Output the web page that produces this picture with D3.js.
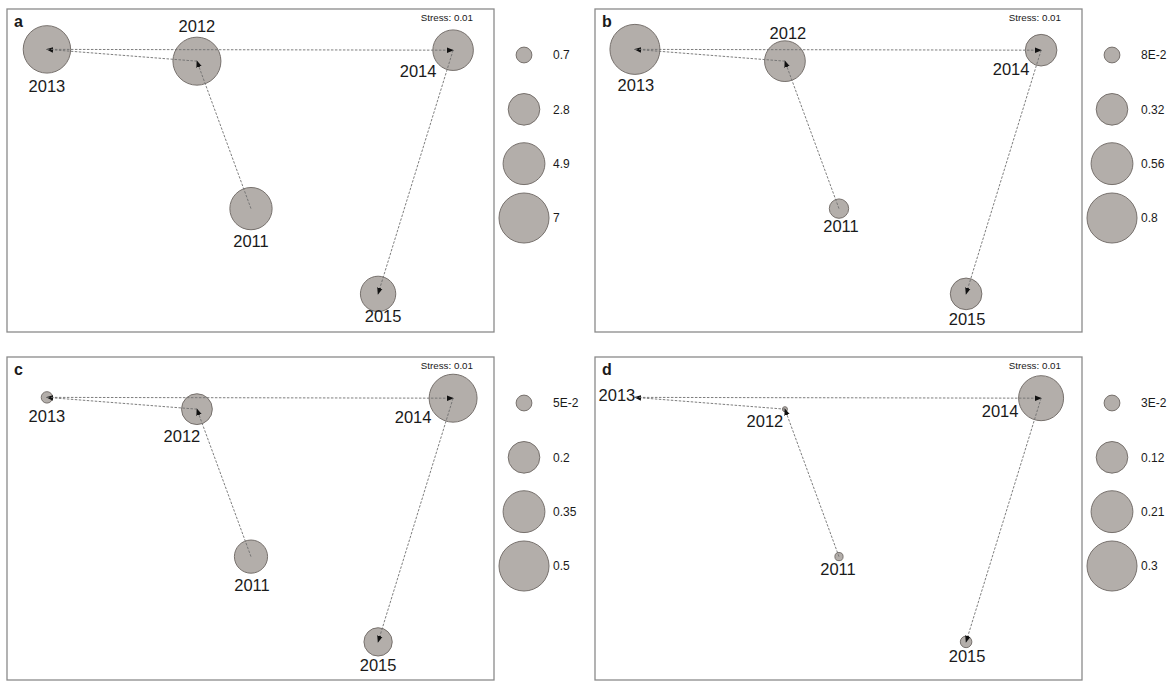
<!DOCTYPE html>
<html>
<head>
<meta charset="utf-8">
<script src="https://cdn.jsdelivr.net/npm/d3@7"></script>
<style>
  body { margin: 0; background: #fff; }
  text { font-family: "Liberation Sans", Arial, sans-serif; fill: #1a1a1a; }
</style>
</head>
<body>
<div id="container"></div>
<script>
/* DATA */
const years = [2011, 2012, 2013, 2014, 2015];
// NMDS scores, same ordination in every panel
const nmds1 = [0.002, -0.220, -0.836, 0.832, 0.524];
const nmds2 = [-0.236, 0.677, 0.750, 0.745, -0.764];

const panelNames = ["a", "b", "c", "d"];
const stressValues = ["0.01", "0.01", "0.01", "0.01"];

// bubble values per panel (year order as above)
const valuesA = [5.0, 6.45, 6.3, 4.6, 3.5];
const valuesB = [0.12, 0.53, 0.8, 0.32, 0.32];
const valuesC = [0.22, 0.19, 0.026, 0.46, 0.16];
const valuesD = [0.008, 0.003, 0, 0.243, 0.016];

// legend sizes and their labels
const legendA = [0.7, 2.8, 4.9, 7];
const legendB = [0.08, 0.32, 0.56, 0.8];
const legendC = [0.05, 0.2, 0.35, 0.5];
const legendD = [0.03, 0.12, 0.21, 0.3];
const legendLabelsA = ["0.7", "2.8", "4.9", "7"];
const legendLabelsB = ["8E-2", "0.32", "0.56", "0.8"];
const legendLabelsC = ["5E-2", "0.2", "0.35", "0.5"];
const legendLabelsD = ["3E-2", "0.12", "0.21", "0.3"];

/* LAYOUT */
const width = 1172, height = 681;
const boxW = 487, boxH = 323;
const maxR = 25;

// label offsets (dx, dy from point centre) picked so labels clear the bubbles
const labelOffsets = [
  [[0, 38], [0, -29], [0, 43], [-35, 27], [5, 28]],
  [[2, 23], [3, -22], [1, 42], [-30, 25], [1, 31]],
  [[1, 34], [-15, 33], [0, 25], [-40, 25], [0, 29]],
  [[-1, 18], [-20, 18], [-18, 4], [-41, 19], [1, 20]]
];

const panels = [
  {left: 7,   top: 9,   values: valuesA, legend: legendA, legendLabels: legendLabelsA},
  {left: 595, top: 9,   values: valuesB, legend: legendB, legendLabels: legendLabelsB},
  {left: 7,   top: 357, values: valuesC, legend: legendC, legendLabels: legendLabelsC},
  {left: 595, top: 357, values: valuesD, legend: legendD, legendLabels: legendLabelsD}
];

const svg = d3.select("#container")
  .append("svg")
  .attr("width", width)
  .attr("height", height);

svg.append("defs").append("marker")
  .attr("id", "arrow")
  .attr("viewBox", "0 -4 8 8")
  .attr("refX", 7)
  .attr("refY", 0)
  .attr("markerUnits", "userSpaceOnUse")
  .attr("markerWidth", 7)
  .attr("markerHeight", 7)
  .attr("orient", "auto")
  .append("path")
  .attr("d", "M0,-3.2L8,0L0,3.2Z")
  .attr("fill", "#111");

const fill = "#b3aeaa", stroke = "#77716d";

panels.forEach((p, i) => {
  const g = svg.append("g").attr("transform", `translate(${p.left},${p.top})`);

  /* SCALES */
  const xScale = d3.scaleLinear().domain([-1, 1]).range([0, boxW]);
  const yScale = d3.scaleLinear().domain([-1, 1]).range([boxH, 0]);
  const rScale = d3.scaleSqrt().domain([0, d3.max(p.legend)]).range([0, maxR]);

  const pts = years.map((y, j) => ({
    year: y, x: xScale(nmds1[j]), y: yScale(nmds2[j]), v: p.values[j], off: labelOffsets[i][j]
  }));

  g.append("rect")
    .attr("x", 0).attr("y", 0)
    .attr("width", boxW).attr("height", boxH)
    .attr("fill", "#fff")
    .attr("stroke", "#8a8a8a")
    .attr("stroke-width", 1.3);

  // bubbles
  g.selectAll("circle.pt")
    .data(pts.filter(d => d.v > 0))
    .join("circle")
    .attr("class", "pt")
    .attr("cx", d => d.x)
    .attr("cy", d => d.y)
    .attr("r", d => rScale(d.v))
    .attr("fill", fill)
    .attr("stroke", stroke)
    .attr("stroke-width", 1);

  // trajectory arrows, year to year
  const links = d3.pairs(pts);
  g.selectAll("line.traj")
    .data(links)
    .join("line")
    .attr("class", "traj")
    .attr("x1", d => d[0].x).attr("y1", d => d[0].y)
    .attr("x2", d => d[1].x).attr("y2", d => d[1].y)
    .attr("stroke", "#6f6f6f")
    .attr("stroke-width", 0.9)
    .attr("stroke-dasharray", "2.5,1.5")
    .attr("marker-end", "url(#arrow)");

  // year labels
  g.selectAll("text.yr")
    .data(pts)
    .join("text")
    .attr("class", "yr")
    .attr("x", d => d.x + d.off[0])
    .attr("y", d => d.y + d.off[1])
    .attr("text-anchor", "middle")
    .style("font-size", "16.5px")
    .text(d => d.year);

  g.append("text")
    .attr("x", 7).attr("y", 18)
    .style("font-size", "16px")
    .style("font-weight", "bold")
    .text(panelNames[i]);

  g.append("text")
    .attr("x", boxW - 21).attr("y", 12)
    .attr("text-anchor", "end")
    .style("font-size", "9.8px")
    .text("Stress: " + stressValues[i]);

  // size legend
  const lg = g.append("g").attr("transform", `translate(${boxW + 30},0)`);
  const legY = d3.scalePoint().domain(d3.range(p.legend.length)).range([46, 209]);
  lg.selectAll("circle")
    .data(p.legend)
    .join("circle")
    .attr("cx", 0)
    .attr("cy", (d, k) => legY(k))
    .attr("r", d => rScale(d))
    .attr("fill", fill)
    .attr("stroke", stroke)
    .attr("stroke-width", 1);
  lg.selectAll("text")
    .data(p.legendLabels)
    .join("text")
    .attr("x", 29)
    .attr("y", (d, k) => legY(k))
    .attr("dy", "0.36em")
    .style("font-size", "12px")
    .text(d => d);
});
</script>
</body>
</html>
